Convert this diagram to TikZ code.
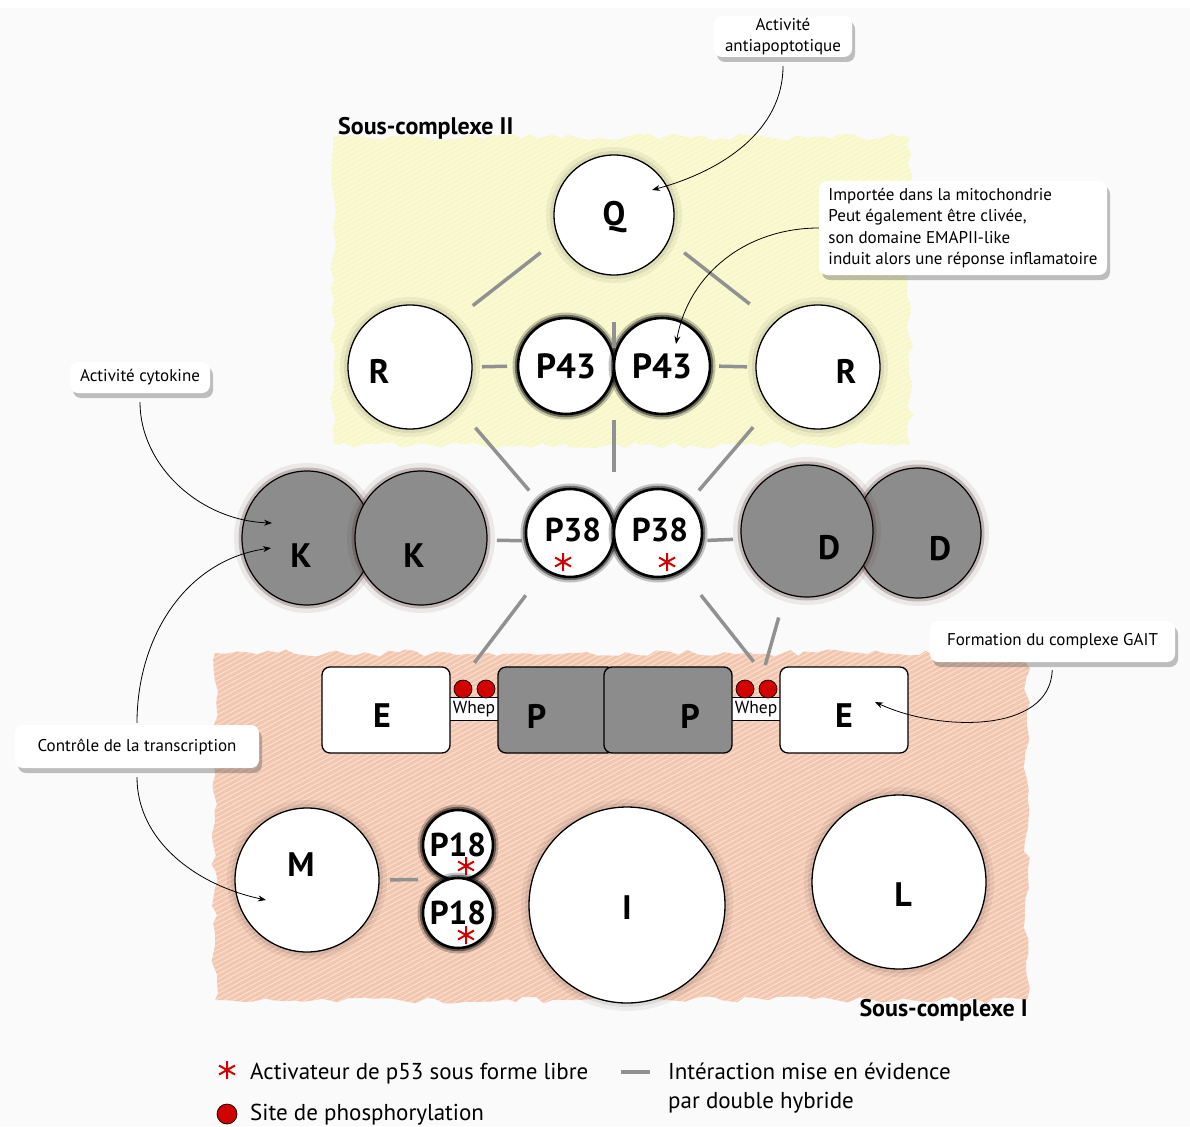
\documentclass[tikz,border=0pt]{standalone}
\usepackage{fontspec}
\setmainfont{PT Sans}
\usetikzlibrary{arrows.meta,decorations.pathmorphing,shadows,calc,shapes.geometric}
\definecolor{bgc}{RGB}{250,250,250}
\definecolor{yel}{RGB}{248,247,200}
\definecolor{sal}{RGB}{243,198,175}
\definecolor{gry}{RGB}{140,140,140}
\definecolor{lin}{RGB}{145,145,145}
\definecolor{redd}{RGB}{210,0,0}
\definecolor{glowc}{RGB}{70,30,30}
\tikzset{ast/.pic={\draw[redd, line width=2pt] (0,-9)--(0,9) (-8,-4.5)--(8,4.5) (-8,4.5)--(8,-4.5);}}
\begin{document}
\begin{tikzpicture}[x=1pt,y=-1pt,
  whitecirc/.style={circle, draw=black, line width=1.3pt, fill=white, inner sep=0pt, outer sep=0pt,
     preaction={draw=black, opacity=0.05, line width=16pt},
     preaction={draw=black, opacity=0.07, line width=8pt}},
  ringcirc/.style={circle, draw=black, line width=2.6pt, fill=white, inner sep=0pt, outer sep=0pt,
     font=\fontsize{35}{40}\selectfont\bfseries,
     preaction={draw=black, opacity=0.22, line width=11pt},
     preaction={draw=black, opacity=0.45, line width=6.5pt}},
  grycirc/.style={ellipse, draw=black, line width=1.2pt, fill=gry, inner sep=0pt, outer sep=0pt,
     preaction={draw=glowc, opacity=0.08, line width=16pt},
     preaction={draw=glowc, opacity=0.25, line width=7pt}},
  boxw/.style={rectangle, rounded corners=8pt, draw=black, line width=1.3pt, fill=white,
     minimum height=86pt, inner sep=0pt, outer sep=0pt},
  boxg/.style={boxw, fill=gry},
  lab/.style={font=\fontsize{34}{40}\selectfont\bfseries, inner sep=0pt},
  inter/.style={draw=lin, line width=3.5pt},
  callout/.style={fill=white, rounded corners=8pt, inner sep=1pt,
     font=\fontsize{17}{21.5}\selectfont,
     drop shadow={shadow xshift=3pt, shadow yshift=-5pt, opacity=0.35, fill=black!70}},
  arr/.style={-{Stealth[length=8pt,width=6pt]}, line width=0.8pt, draw=black},
  dot/.style={circle, fill=redd, draw=black, line width=0.7pt, minimum size=18pt, inner sep=0pt},
  whep/.style={rectangle, fill=white, minimum width=52pt, minimum height=22pt, inner sep=0pt,
     font=\fontsize{17.5}{18}\selectfont},
  leg/.style={font=\fontsize{23}{29}\selectfont, inner sep=0pt},
  sous/.style={font=\fontsize{24}{26}\selectfont\bfseries, inner sep=0pt}
]
\useasboundingbox (0,0) rectangle (1190,1126);
\fill[bgc] (0,0) rectangle (1190,1126);
\fill[white] (0,0) rectangle (1190,8);

% yellow scribble region
\pgfmathsetseed{11}
\fill[yel, decorate, decoration={random steps, segment length=10pt, amplitude=3.5pt}] (333,137) rectangle (910,445);
\begin{scope}
\pgfmathsetseed{11}
\clip[decorate, decoration={random steps, segment length=10pt, amplitude=3.5pt}] (333,137) rectangle (910,445);
\foreach \k in {0,...,140} \draw[white, opacity=0.45, line width=1pt] ({-280+\k*9},455) -- ++(600,-330);
\end{scope}

% salmon scribble region
\pgfmathsetseed{23}
\fill[sal, decorate, decoration={random steps, segment length=10pt, amplitude=3.5pt}] (215,653) rectangle (1027,1000);
\begin{scope}
\pgfmathsetseed{23}
\clip[decorate, decoration={random steps, segment length=10pt, amplitude=3.5pt}] (215,653) rectangle (1027,1000);
\foreach \k in {0,...,170} \draw[white, opacity=0.45, line width=1pt] ({-460+\k*9},1010) -- ++(680,-370);
\end{scope}

\node[sous, anchor=west] (s2) at (338,128) {Sous-complexe II};
\node[sous, anchor=east] (s1) at (1028,1010) {Sous-complexe I};

% sous-complexe II
\node[whitecirc, minimum size=120pt, label={[lab, yshift=-2pt]center:Q}] (Q) at (614,215) {};
\node[whitecirc, minimum size=124pt, label={[lab, xshift=-31pt, yshift=-4pt]center:R}] (Rl) at (410,367) {};
\node[whitecirc, minimum size=124pt, label={[lab, xshift=28pt, yshift=-4pt]center:R}] (Rr) at (818,367) {};
\node[ringcirc, minimum size=96pt] (P43l) at (566,366) {P43};
\node[ringcirc, minimum size=96pt] (P43r) at (662,366) {P43};
\coordinate (P43c) at ($(P43l)!0.5!(P43r)$);

% middle row
\node[grycirc, minimum width=130pt, minimum height=134pt, label={[lab, xshift=-6pt, yshift=-18pt]center:K}] (Kl) at (307,538) {};
\node[grycirc, minimum width=132pt, minimum height=134pt, label={[lab, xshift=-7pt, yshift=-18pt]center:K}] (Kr) at (421,538) {};
\node[grycirc, minimum width=126pt, minimum height=130pt, label={[lab, xshift=22pt, yshift=-16pt]center:D}] (Dr) at (918,533) {};
\node[grycirc, minimum width=132pt, minimum height=132pt, label={[lab, xshift=22pt, yshift=-17pt]center:D}] (Dl) at (807,531) {};
\node[ringcirc, minimum size=88pt, label={[font=\fontsize{33}{40}\selectfont\bfseries, inner sep=0pt, xshift=3pt, yshift=3pt]center:P38}] (P38l) at (570,533) {};
\node[ringcirc, minimum size=88pt, label={[font=\fontsize{33}{40}\selectfont\bfseries, inner sep=0pt, xshift=2pt, yshift=3pt]center:P38}] (P38r) at (658,533) {};
\coordinate (P38c) at ($(P38l)!0.5!(P38r)$);
\pic at ($(P38l)+(-7,29)$) {ast};
\pic at ($(P38r)+(9,29)$) {ast};

% E - Whep - P - P - Whep - E
\node[whep] (Wl) at (474,709) {Whep};
\node[whep] (Wr) at (756,709) {Whep};
\draw[line width=1.2pt] (Wl.north west) -- (Wl.north east) (Wl.south west) -- (Wl.south east);
\draw[line width=1.2pt] (Wr.north west) -- (Wr.north east) (Wr.south west) -- (Wr.south east);
\node[boxw, minimum width=128pt, label={[lab, xshift=-4pt, yshift=-6pt]center:E}] (El) at (386,710) {};
\node[boxg, minimum width=117pt, label={[lab, xshift=-20pt, yshift=-6pt]center:P}] (Pl) at (556.5,710) {};
\node[boxg, minimum width=128pt, label={[lab, xshift=22pt, yshift=-6pt]center:P}] (Pr) at (668,710) {};
\node[boxw, minimum width=128pt, label={[lab, yshift=-6pt]center:E}] (Er) at (844,710) {};
\node[dot] (dl1) at (463,689) {};
\node[dot] (dl2) at (486,689) {};
\node[dot] (dr1) at (745,689) {};
\node[dot] (dr2) at (768,689) {};

% sous-complexe I bottom row
\node[whitecirc, minimum size=144pt, label={[lab, xshift=-6pt, yshift=15pt]center:M}] (M) at (307,880) {};
\node[ringcirc, minimum size=70pt, font=\fontsize{33}{40}\selectfont\bfseries] (P18a) at (458,845) {P18};
\node[ringcirc, minimum size=70pt, font=\fontsize{33}{40}\selectfont\bfseries] (P18b) at (458,913) {P18};
\coordinate (P18c) at ($(P18a)!0.5!(P18b)$);
\pic at ($(P18a)+(8,21)$) {ast};
\pic at ($(P18b)+(8,22)$) {ast};
\node[whitecirc, minimum size=196pt, label={[lab, yshift=-3pt]center:I}] (I) at (627,905) {};
\node[whitecirc, minimum size=174pt, label={[lab, xshift=4pt, yshift=-13pt]center:L}] (L) at (899,882) {};

% interactions (double hybride)
\draw[inter, shorten <=23pt, shorten >=26pt] (Q.203.5) -- (Rl.47);
\draw[inter, shorten <=20pt, shorten >=31pt] (Q.335.7) -- (Rr.135.4);
\draw[inter, shorten <=73pt, shorten >=44pt] (Q) -- (P43c);
\draw[inter, shorten <=54pt, shorten >=61pt] (P43c) -- (P38c);
\draw[inter, shorten <=10pt, shorten >=11pt] (Rl.east) -- (P43l.west);
\draw[inter, shorten <=9pt, shorten >=9pt] (P43r.east) -- (Rr.west);
\draw[inter, shorten <=27.5pt, shorten >=15pt] (Rl.320.4) -- (P38l.135);
\draw[inter, shorten <=26.7pt, shorten >=15pt] (Rr.220) -- (P38r.45);
\draw[inter, shorten <=10pt, shorten >=4.5pt] (Kr.358) -- (P38l.190);
\draw[inter, shorten <=6pt, shorten >=8.5pt] (P38r.350) -- (Dl.187.8);
\draw[inter, shorten <=32.5pt, shorten >=44pt] (P38l.236.7) -- (Wl.north west);
\draw[inter, shorten <=31.5pt, shorten >=46pt] (P38r.302) -- (Wr.north east);
\draw[inter, shorten <=25pt, shorten >=34pt] (Dl.251.4) -- (Wr.north);
\draw[inter, shorten <=11pt, shorten >=40pt] (M.east) -- (P18c);

% callouts
\node[callout, align=center, minimum width=138pt, minimum height=41pt] (cbA) at (783,36.5) {Activité\\antiapoptotique};
\node[callout, align=left, minimum width=288pt, minimum height=94pt] (cbI) at (963,228) {Importée dans la mitochondrie\\Peut également être clivée,\\son domaine EMAPII-like\\induit alors une réponse inflamatoire};
\node[callout, minimum width=140pt, minimum height=31pt] (cbC) at (140,377.5) {Activité cytokine};
\node[callout, minimum width=244pt, minimum height=43pt] (cbT) at (137,746.5) {Contrôle de la transcription};
\node[callout, minimum width=245pt, minimum height=41pt] (cbG) at (1052.5,641.5) {Formation du complexe GAIT};

\coordinate (tQ) at (652,190);
\coordinate (tP43) at (676,344);
\coordinate (tK1) at (272,523);
\coordinate (tK2) at (271,548);
\coordinate (tM) at (266,900);
\coordinate (tE) at (875,702);
\draw[arr, shorten <=9pt] (cbA.south) to[out=-90,in=15] (tQ);
\draw[arr] (cbI.west) to[out=180,in=80] (tP43);
\draw[arr, shorten <=9pt] (cbC.south) to[out=-90,in=178] (tK1);
\draw[arr, shorten <=2pt] (cbT.north) to[out=90,in=188] (tK2);
\draw[arr, shorten <=9pt] (cbT.south) to[out=-90,in=168] (tM);
\draw[arr, shorten <=8pt] (cbG.south) to[out=-92,in=-25] (tE);

% legend
\pic at (227,1070) {ast};
\node[leg, anchor=base west] (lg1) at (250,1079) {Activateur de p53 sous forme libre};
\node[dot, minimum size=20pt] (lgdot) at (227,1114) {};
\node[leg, anchor=base west] (lg2) at (250,1120) {Site de phosphorylation};
\coordinate (lgA) at (621,1072);
\coordinate (lgB) at (650,1072);
\draw[inter] (lgA) -- (lgB);
\node[leg, anchor=base west] (lg3) at (668,1079) {Intéraction mise en évidence};
\node[leg, anchor=base west] (lg4) at (668,1108) {par double hybride};
\end{tikzpicture}
\end{document}
